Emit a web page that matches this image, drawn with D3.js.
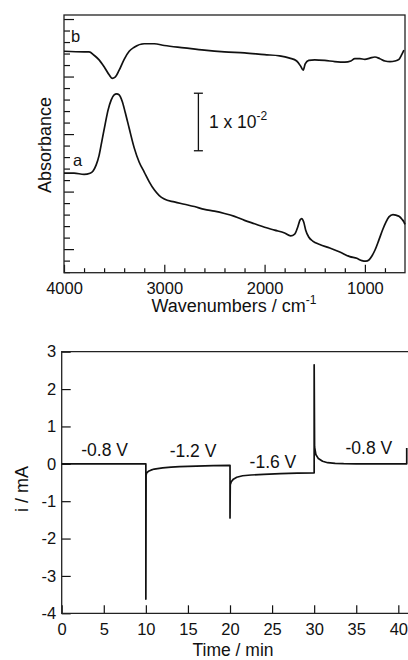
<!DOCTYPE html>
<html>
<head>
<meta charset="utf-8">
<script src="https://cdn.jsdelivr.net/npm/d3@7"></script>
<style>
  body { margin: 0; background: #fff; }
  svg { display: block; font-family: "Liberation Sans", Arial, Helvetica, sans-serif; }
</style>
</head>
<body>
<svg id="chart" width="408" height="660"></svg>
<script>
// ---- IR spectrum a (wavenumber / cm-1, absorbance) ----
const wavenumbersA = [4000, 3900, 3800, 3740, 3710, 3680, 3650, 3620, 3590, 3560, 3530, 3500, 3475, 3450, 3420, 3390, 3350, 3300, 3250, 3200, 3150, 3100, 3050, 3000, 2900, 2800, 2700, 2600, 2500, 2400, 2300, 2200, 2100, 2000, 1900, 1800, 1740, 1700, 1670, 1645, 1630, 1610, 1590, 1560, 1520, 1450, 1350, 1250, 1150, 1080, 1030, 990, 960, 930, 900, 860, 820, 790, 760, 720, 690, 660, 630, 610, 600];
const absorbanceA = [0.0132, 0.0132, 0.0130, 0.0132, 0.0136, 0.0146, 0.0163, 0.0190, 0.0217, 0.0242, 0.0259, 0.0268, 0.0270, 0.0268, 0.0257, 0.0238, 0.0210, 0.0176, 0.0151, 0.0134, 0.0117, 0.0103, 0.0093, 0.0087, 0.0082, 0.0078, 0.0074, 0.0069, 0.0066, 0.0062, 0.0057, 0.0050, 0.0044, 0.0038, 0.0033, 0.0028, 0.0023, 0.0026, 0.0038, 0.0051, 0.0053, 0.0047, 0.0033, 0.0021, 0.0014, 0.0008, 0.0002, -0.0005, -0.0013, -0.0016, -0.0020, -0.0021, -0.0019, -0.0012, -0.0002, 0.0016, 0.0035, 0.0047, 0.0056, 0.0060, 0.0059, 0.0057, 0.0052, 0.0047, 0.0043];

// ---- IR spectrum b ----
const wavenumbersB = [4000, 3800, 3750, 3700, 3650, 3600, 3550, 3520, 3490, 3450, 3400, 3350, 3300, 3200, 3100, 3000, 2800, 2600, 2400, 2200, 2000, 1850, 1750, 1680, 1640, 1615, 1595, 1560, 1500, 1400, 1300, 1200, 1140, 1100, 1050, 1000, 950, 900, 850, 800, 750, 700, 660, 630, 610];
const absorbanceB = [0.0344, 0.0343, 0.0343, 0.0337, 0.0329, 0.0317, 0.0303, 0.0297, 0.0299, 0.0311, 0.0330, 0.0344, 0.0351, 0.0357, 0.0357, 0.0354, 0.0350, 0.0346, 0.0343, 0.0341, 0.0338, 0.0336, 0.0332, 0.0327, 0.0318, 0.0311, 0.0322, 0.0328, 0.0329, 0.0328, 0.0326, 0.0325, 0.0327, 0.0331, 0.0331, 0.0330, 0.0332, 0.0334, 0.0331, 0.0327, 0.0326, 0.0327, 0.0330, 0.0339, 0.0346];

const wavenumberMajorTicks = [4000, 3000, 2000, 1000];
const wavenumberMinorTicks = [3800, 3600, 3400, 3200, 2800, 2600, 2400, 2200, 1800, 1600, 1400, 1200, 800];
const absorbanceMajorTicks = [0, 0.01, 0.02, 0.03, 0.04];
const absorbanceMinorTicks = [-0.004, -0.002, 0.002, 0.004, 0.006, 0.008, 0.012, 0.014, 0.016, 0.018, 0.022, 0.024, 0.026, 0.028, 0.032, 0.034, 0.036, 0.038];

// scale bar for 1 x 10^-2 absorbance
const scaleBarWavenumber = 2660;
const scaleBarRange = [0.0171, 0.0271];

// ---- chronoamperometry: current vs time at stepped potentials ----
const timeMin = [0, 10, 10, 10.03, 10.1, 10.3, 10.6, 11, 12, 13, 14, 16, 18, 20, 20, 20.03, 20.15, 20.4, 20.8, 21.5, 22.5, 24, 26, 28, 30, 30, 30.05, 30.2, 30.5, 31, 31.6, 32.5, 33.5, 35, 41.0, 41.0];
const currentMA = [0, 0, -3.62, -0.3, -0.24, -0.2, -0.17, -0.14, -0.11, -0.09, -0.075, -0.06, -0.048, -0.04, -1.45, -0.56, -0.48, -0.41, -0.36, -0.32, -0.3, -0.28, -0.265, -0.25, -0.24, 2.65, 0.45, 0.25, 0.14, 0.07, 0.03, 0.01, 0.003, 0, 0, 0.42];

const timeTicks = [0, 5, 10, 15, 20, 25, 30, 35, 40];
const currentTicks = [-4, -3, -2, -1, 0, 1, 2, 3];

const potentialLabels = ["-0.8 V", "-1.2 V", "-1.6 V", "-0.8 V"];
const potentialLabelTime = [5.1, 15.6, 25.1, 36.5];
const potentialLabelCurrent = [0.2, 0.17, -0.1, 0.25];

const svg = d3.select("#chart");
const ink = "#111";
const plain = d => String(d); // hyphen-minus, no trailing decimals

// ================= upper panel: spectra =================
const boxA = { left: 64, right: 405, top: 15, bottom: 272.7 };
const xW = d3.scaleLinear().domain([4000, 600]).range([boxA.left, boxA.right]);
const yA = d3.scaleLinear().domain([-0.0041, 0.0407]).range([boxA.bottom, boxA.top]);

const gUp = svg.append("g");

gUp.append("g")
  .attr("transform", `translate(0,${boxA.bottom})`)
  .call(d3.axisBottom(xW).tickValues(wavenumberMajorTicks).tickSize(-8).tickSizeOuter(0).tickPadding(10).tickFormat(plain))
  .call(g => g.select(".domain").remove())
  .call(g => g.selectAll("text").attr("font-size", 16.5).attr("fill", ink).attr("font-family", null));

gUp.append("g")
  .attr("transform", `translate(0,${boxA.bottom})`)
  .call(d3.axisBottom(xW).tickValues(wavenumberMinorTicks).tickSize(-4.5).tickSizeOuter(0).tickFormat(""))
  .call(g => g.select(".domain").remove());

gUp.append("g")
  .attr("transform", `translate(${boxA.left},0)`)
  .call(d3.axisLeft(yA).tickValues(absorbanceMajorTicks).tickSize(-10).tickSizeOuter(0).tickFormat(""))
  .call(g => g.select(".domain").remove());

gUp.append("g")
  .attr("transform", `translate(${boxA.left},0)`)
  .call(d3.axisLeft(yA).tickValues(absorbanceMinorTicks).tickSize(-6).tickSizeOuter(0).tickFormat(""))
  .call(g => g.select(".domain").remove());

gUp.selectAll(".tick line").attr("stroke", ink).attr("stroke-width", 1.2);

gUp.append("rect")
  .attr("x", boxA.left).attr("y", boxA.top)
  .attr("width", boxA.right - boxA.left).attr("height", boxA.bottom - boxA.top)
  .attr("fill", "none").attr("stroke", "#222").attr("stroke-width", 1.3);

const lineW = d3.line().curve(d3.curveMonotoneX)
  .x(d => xW(d[0])).y(d => yA(d[1]));

gUp.append("path")
  .datum(d3.zip(wavenumbersA, absorbanceA))
  .attr("d", lineW).attr("fill", "none").attr("stroke", ink).attr("stroke-width", 1.7);

gUp.append("path")
  .datum(d3.zip(wavenumbersB, absorbanceB))
  .attr("d", lineW).attr("fill", "none").attr("stroke", ink).attr("stroke-width", 1.7);

gUp.append("text").attr("x", xW(3930)).attr("y", yA(0.0360))
  .attr("font-size", 16.5).attr("fill", ink).text("b");
gUp.append("text").attr("x", xW(3910)).attr("y", yA(0.0144))
  .attr("font-size", 16.5).attr("fill", ink).text("a");

// scale bar
const sbX = xW(scaleBarWavenumber);
const sb = gUp.append("g").attr("stroke", ink).attr("stroke-width", 1.3);
sb.append("line").attr("x1", sbX).attr("x2", sbX).attr("y1", yA(scaleBarRange[0])).attr("y2", yA(scaleBarRange[1]));
sb.append("line").attr("x1", sbX - 4.5).attr("x2", sbX + 4.5).attr("y1", yA(scaleBarRange[0])).attr("y2", yA(scaleBarRange[0]));
sb.append("line").attr("x1", sbX - 4.5).attr("x2", sbX + 4.5).attr("y1", yA(scaleBarRange[1])).attr("y2", yA(scaleBarRange[1]));
const sbText = gUp.append("text").attr("x", sbX + 10.5).attr("y", (yA(scaleBarRange[0]) + yA(scaleBarRange[1])) / 2 + 6)
  .attr("font-size", 17.5).attr("fill", ink);
sbText.append("tspan").text("1 x 10");
sbText.append("tspan").attr("dy", -8).attr("font-size", 12).text("-2");

gUp.append("text")
  .attr("transform", `translate(${45 + 6},${145}) rotate(-90)`)
  .attr("text-anchor", "middle").attr("font-size", 18).attr("fill", ink)
  .text("Absorbance");

const wnLabel = gUp.append("text").attr("x", 234).attr("y", 312)
  .attr("text-anchor", "middle").attr("font-size", 18).attr("fill", ink);
wnLabel.append("tspan").text("Wavenumbers / cm");
wnLabel.append("tspan").attr("dy", -8).attr("font-size", 12).text("-1");

// ================= lower panel: current transient =================
const boxB = { left: 61.7, right: 408, top: 351.7, bottom: 613.3 };
const xT = d3.scaleLinear().domain([0, 41.15]).range([boxB.left, boxB.right]);
const yI = d3.scaleLinear().domain([-4, 3]).range([boxB.bottom, boxB.top]);

const gLow = svg.append("g");

gLow.append("g")
  .attr("transform", `translate(0,${boxB.bottom})`)
  .call(d3.axisBottom(xT).tickValues(timeTicks).tickSize(-8).tickSizeOuter(0).tickPadding(9.5).tickFormat(plain))
  .call(g => g.select(".domain").remove())
  .call(g => g.selectAll("text").attr("font-size", 16.5).attr("fill", ink).attr("font-family", null));

gLow.append("g")
  .attr("transform", `translate(${boxB.left},0)`)
  .call(d3.axisLeft(yI).tickValues(currentTicks).tickSize(-9).tickSizeOuter(0).tickPadding(5.5).tickFormat(plain))
  .call(g => g.select(".domain").remove())
  .call(g => g.selectAll("text").attr("font-size", 16.5).attr("fill", ink).attr("font-family", null));

gLow.selectAll(".tick line").attr("stroke", ink).attr("stroke-width", 1.2);

gLow.append("path")
  .attr("d", `M${boxB.right},${boxB.top}H${boxB.left}V${boxB.bottom}H${boxB.right}`)
  .attr("fill", "none").attr("stroke", "#222").attr("stroke-width", 1.3);

const lineT = d3.line().x(d => xT(d[0])).y(d => yI(d[1]));
gLow.append("path")
  .datum(d3.zip(timeMin, currentMA))
  .attr("d", lineT).attr("fill", "none").attr("stroke", ink).attr("stroke-width", 1.7)
  .attr("stroke-linejoin", "round");

gLow.selectAll("text.potential")
  .data(d3.zip(potentialLabels, potentialLabelTime, potentialLabelCurrent))
  .join("text").attr("class", "potential")
  .attr("x", d => xT(d[1])).attr("y", d => yI(d[2]))
  .attr("text-anchor", "middle").attr("font-size", 17.5).attr("fill", ink)
  .text(d => d[0]);

gLow.append("text")
  .attr("transform", `translate(${21.7 + 6},${489}) rotate(-90)`)
  .attr("text-anchor", "middle").attr("font-size", 18).attr("fill", ink)
  .text("i / mA");

gLow.append("text").attr("x", 233).attr("y", 655.5)
  .attr("text-anchor", "middle").attr("font-size", 17.5).attr("fill", ink)
  .text("Time / min");
</script>
</body>
</html>
